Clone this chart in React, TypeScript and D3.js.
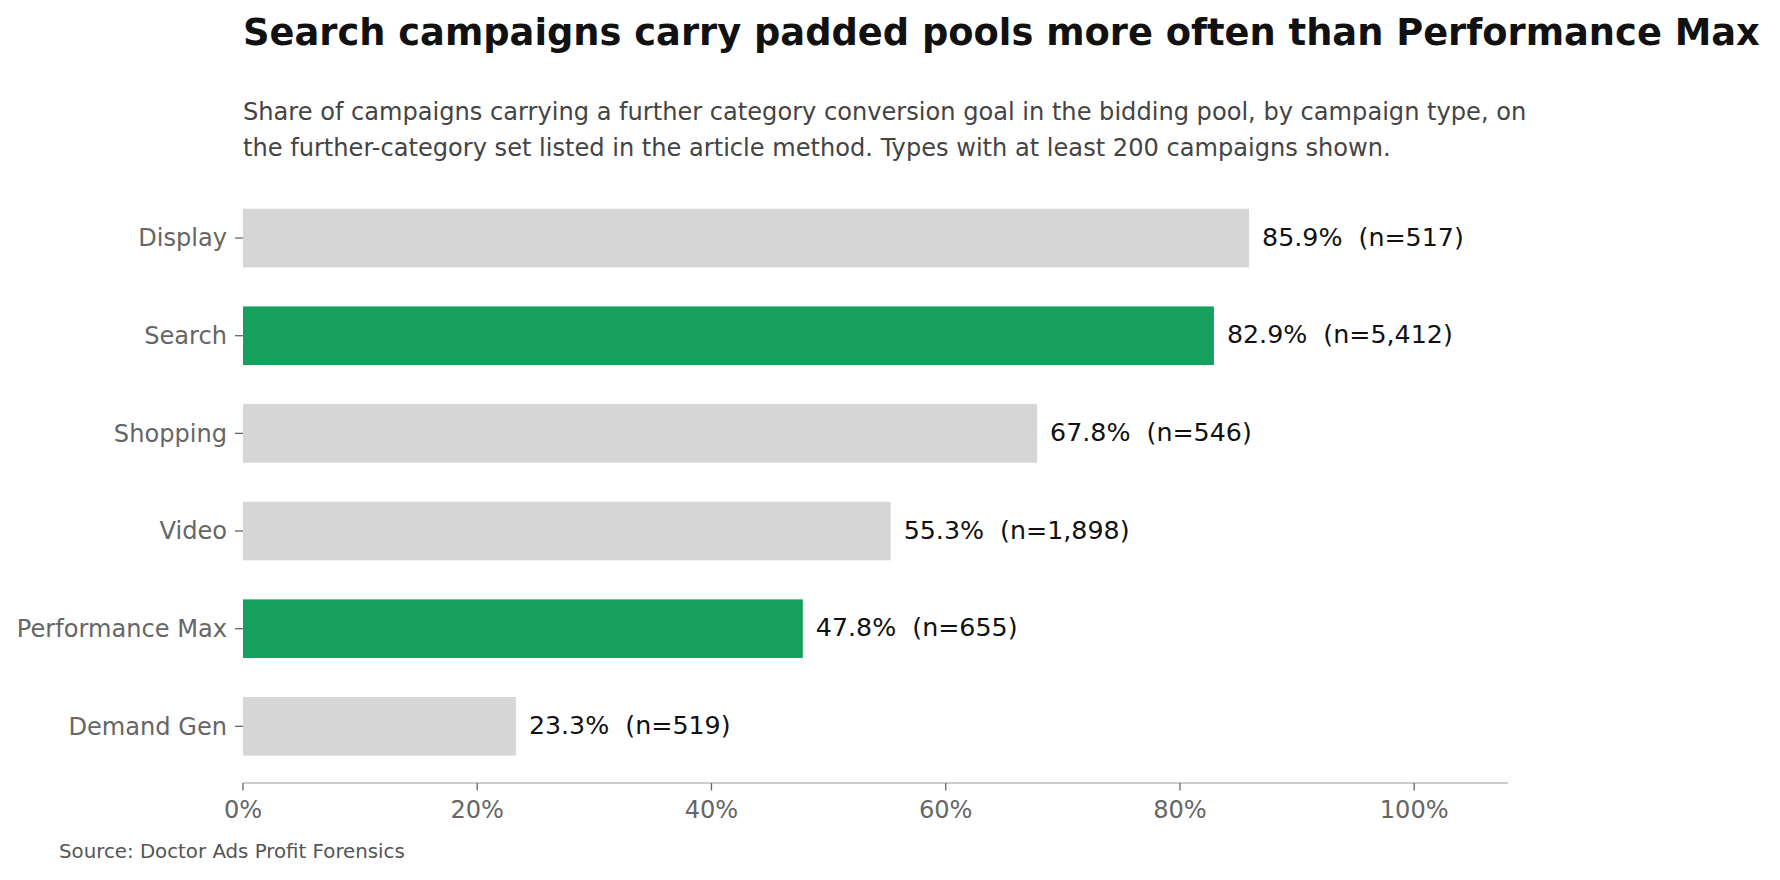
import React from "react";
import * as d3 from "d3";

const categories = ["Display", "Search", "Shopping", "Video", "Performance Max", "Demand Gen"];
const shares = [85.9, 82.9, 67.8, 55.3, 47.8, 23.3];
const counts = ["517", "5,412", "546", "1,898", "655", "519"];
const highlighted = ["Search", "Performance Max"];
const xTicks = [0, 20, 40, 60, 80, 100];

const title = "Search campaigns carry padded pools more often than Performance Max";
const subtitleLines = [
  "Share of campaigns carrying a further category conversion goal in the bidding pool, by campaign type, on",
  "the further-category set listed in the article method. Types with at least 200 campaigns shown.",
];
const source = "Source: Doctor Ads Profit Forensics";

const W = 1780;
const H = 880;
const FONT = "'DejaVu Sans', sans-serif";

export default function App() {
  const x = d3.scaleLinear().domain([0, 108]).range([243, 1507.9]);
  const y = d3
    .scaleBand<string>()
    .domain(categories)
    .range([182.4, 782])
    .paddingInner(0.4)
    .paddingOuter(0.27);
  const axisY = 783;

  return (
    <svg width={W} height={H} style={{ position: "absolute", left: 0, top: 0, background: "#fff" }} fontFamily={FONT}>
      <rect width={W} height={H} fill="#fff" />
      <text x={243} y={45} fontSize={36.8} fontWeight="bold" fill="#111">
        {title}
      </text>
      {subtitleLines.map((l, i) => (
        <text key={i} x={243} y={119.5 + i * 36} fontSize={24.1} fill="#444">
          {l}
        </text>
      ))}
      {categories.map((c, i) => {
        const yy = y(c)!;
        const bw = y.bandwidth();
        const isHi = highlighted.includes(c);
        return (
          <g key={c}>
            <rect x={x(0)} y={yy} width={x(shares[i]) - x(0)} height={bw} fill={isHi ? "#15a05e" : "#d6d6d6"} />
            <line x1={x(0) - 8} x2={x(0)} y1={yy + bw / 2} y2={yy + bw / 2} stroke="#666" strokeWidth={1.3} />
            <text x={x(0) - 16} y={yy + bw / 2} dy="0.34em" textAnchor="end" fontSize={24.1} fill="#666">
              {c}
            </text>
            <text x={x(shares[i]) + 13} y={yy + bw / 2} dy="0.3em" fontSize={25.3} fill="#111">
              {`${shares[i].toFixed(1)}%\u00a0\u00a0(n=${counts[i]})`}
            </text>
          </g>
        );
      })}
      <line x1={x(0)} x2={x(108)} y1={axisY} y2={axisY} stroke="#bbb" strokeWidth={1.6} />
      {xTicks.map((t) => (
        <g key={t}>
          <line x1={x(t)} x2={x(t)} y1={axisY} y2={axisY + 7.5} stroke="#666" strokeWidth={1.3} />
          <text x={x(t)} y={axisY + 35} textAnchor="middle" fontSize={24.1} fill="#666">
            {`${t}%`}
          </text>
        </g>
      ))}
      <text x={59} y={857.5} fontSize={19.8} fill="#555">
        {source}
      </text>
    </svg>
  );
}
